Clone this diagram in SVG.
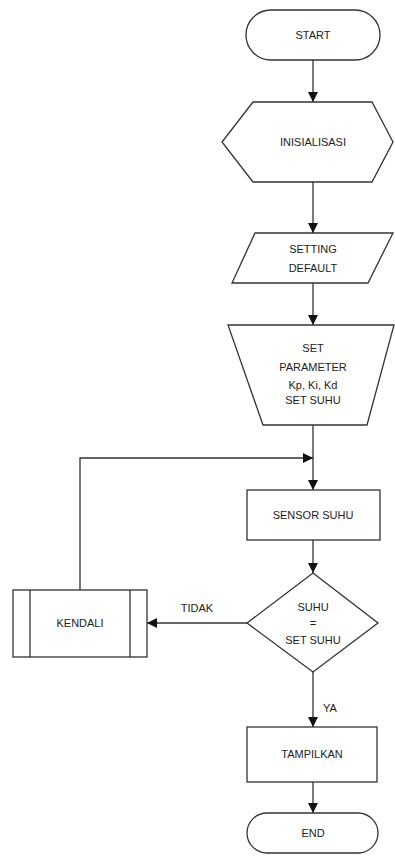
<svg xmlns="http://www.w3.org/2000/svg" width="395" height="861" viewBox="0 0 395 861">
<style>
.s{fill:#fff;stroke:#333;stroke-width:1.3}
.c{fill:none;stroke:#333;stroke-width:1.3}
text{font-family:"Liberation Sans",Arial,sans-serif;font-size:11px;fill:#222;text-anchor:middle}
</style>
<defs>
<marker id="ah" viewBox="0 0 10 10" refX="10" refY="5" markerWidth="10" markerHeight="10" markerUnits="userSpaceOnUse" orient="auto">
<path d="M0,0 L10,5 L0,10 Z" fill="#111"/>
</marker>
</defs>
<rect width="395" height="861" fill="#fff"/>
<g id="connectors">
<line class="c" x1="313" y1="60" x2="313" y2="102" marker-end="url(#ah)"/>
<line class="c" x1="313" y1="182" x2="313" y2="233" marker-end="url(#ah)"/>
<line class="c" x1="313" y1="283" x2="313" y2="325" marker-end="url(#ah)"/>
<line class="c" x1="313" y1="425" x2="313" y2="490" marker-end="url(#ah)"/>
<polyline class="c" points="80,590 80,458 313,458" marker-end="url(#ah)"/>
<line class="c" x1="313" y1="540" x2="313" y2="573" marker-end="url(#ah)"/>
<line class="c" x1="247" y1="623" x2="147" y2="623" marker-end="url(#ah)"/>
<line class="c" x1="313" y1="672" x2="313" y2="727" marker-end="url(#ah)"/>
<line class="c" x1="313" y1="782" x2="313" y2="813" marker-end="url(#ah)"/>
<text x="197" y="612">TIDAK</text>
<text x="330" y="712">YA</text>
</g>
<g id="start">
<rect class="s" x="246" y="10" width="134" height="50" rx="25"/>
<text x="313" y="39">START</text>
</g>
<g id="inisialisasi">
<polygon class="s" points="253,102 372,102 393,142 372,182 253,182 222,142"/>
<text x="313" y="146">INISIALISASI</text>
</g>
<g id="setting-default">
<polygon class="s" points="255,233 393,233 368,283 232,283"/>
<text x="313" y="253">SETTING</text>
<text x="313" y="272">DEFAULT</text>
</g>
<g id="set-parameter">
<polygon class="s" points="228,325 394,325 367,425 263,425"/>
<text x="313" y="352">SET</text>
<text x="313" y="371">PARAMETER</text>
<text x="313" y="389">Kp, Ki, Kd</text>
<text x="313" y="404">SET SUHU</text>
</g>
<g id="sensor-suhu">
<rect class="s" x="247" y="490" width="133" height="50"/>
<text x="313" y="519">SENSOR SUHU</text>
</g>
<g id="decision">
<polygon class="s" points="313,573 378,623 313,672 247,623"/>
<text x="313" y="611">SUHU</text>
<text x="313" y="627">=</text>
<text x="313" y="644">SET SUHU</text>
</g>
<g id="kendali">
<rect class="s" x="13" y="590" width="134" height="67"/>
<line class="c" x1="30" y1="590" x2="30" y2="657"/>
<line class="c" x1="130" y1="590" x2="130" y2="657"/>
<text x="80" y="627">KENDALI</text>
</g>
<g id="tampilkan">
<rect class="s" x="247" y="727" width="130" height="55"/>
<text x="312" y="758">TAMPILKAN</text>
</g>
<g id="end">
<rect class="s" x="247" y="813" width="131" height="40" rx="20"/>
<text x="313" y="837">END</text>
</g>
</svg>
